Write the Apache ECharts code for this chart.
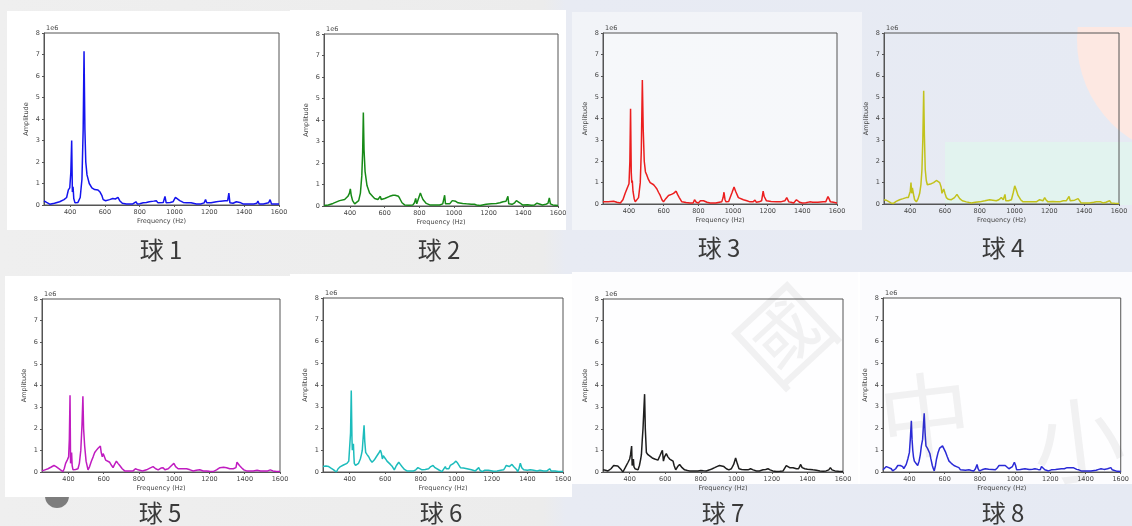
<!DOCTYPE html>
<html>
<head>
<meta charset="utf-8">
<script src="https://cdn.jsdelivr.net/npm/echarts@6/dist/echarts.min.js"></script>
<style>
html,body{margin:0;padding:0;background:#eeeeee;}
#chart{width:1132px;height:526px;}
</style>
</head>
<body>
<div id="chart"></div>
<script>
// Spectrum of each ball: [frequency (Hz), amplitude (x1e6)]
const ball1 = [[250,0.19],[265,0.12],[283,0.04],[310,0.08],[340,0.15],[365,0.25],[380,0.35],[390,0.7],[398,0.8],[404,1.5],[409,3.0],[413,0.6],[417,0.85],[421,0.3],[428,0.1],[445,0.12],[458,0.35],[468,1.2],[475,3.5],[480,7.15],[485,3.5],[490,2.0],[497,1.4],[510,1.0],[525,0.8],[541,0.72],[560,0.7],[572,0.6],[582,0.45],[590,0.25],[604,0.2],[627,0.25],[645,0.3],[660,0.28],[675,0.35],[685,0.2],[700,0.08],[723,0.05],[760,0.05],[778,0.15],[786,0.05],[800,0.06],[809,0.15],[820,0.1],[838,0.12],[855,0.15],[866,0.2],[880,0.18],[895,0.2],[905,0.1],[915,0.08],[935,0.12],[945,0.4],[952,0.1],[975,0.12],[991,0.15],[1005,0.35],[1015,0.33],[1030,0.2],[1050,0.12],[1070,0.1],[1095,0.1],[1125,0.05],[1150,0.05],[1170,0.1],[1178,0.25],[1185,0.1],[1210,0.1],[1240,0.15],[1265,0.18],[1290,0.2],[1305,0.2],[1312,0.55],[1318,0.1],[1336,0.08],[1355,0.15],[1365,0.22],[1375,0.12],[1393,0.05],[1430,0.05],[1455,0.05],[1472,0.08],[1479,0.18],[1486,0.05],[1510,0.05],[1540,0.1],[1549,0.25],[1557,0.05],[1580,0.05],[1600,0.05]];
const ball2 = [[250,0.02],[275,0.05],[302,0.12],[340,0.25],[369,0.3],[388,0.45],[397,0.6],[402,0.8],[407,0.5],[415,0.25],[427,0.1],[437,0.05],[450,0.25],[460,0.6],[468,1.4],[473,2.5],[477,4.35],[481,2.6],[487,1.6],[498,0.95],[513,0.6],[530,0.45],[542,0.35],[561,0.3],[575,0.45],[580,0.3],[586,0.35],[600,0.35],[610,0.4],[629,0.45],[648,0.5],[660,0.5],[671,0.55],[680,0.45],[687,0.35],[700,0.15],[715,0.05],[740,0.03],[763,0.05],[772,0.15],[779,0.35],[785,0.1],[795,0.15],[806,0.6],[813,0.45],[821,0.3],[840,0.12],[860,0.05],[890,0.05],[917,0.05],[935,0.1],[946,0.5],[951,0.1],[975,0.1],[990,0.25],[1000,0.3],[1010,0.22],[1023,0.15],[1050,0.12],[1071,0.1],[1100,0.08],[1118,0.08],[1123,0.14],[1130,0.05],[1150,0.02],[1186,0.08],[1215,0.1],[1244,0.12],[1265,0.15],[1283,0.2],[1300,0.22],[1311,0.45],[1316,0.1],[1335,0.08],[1350,0.15],[1360,0.25],[1370,0.25],[1379,0.15],[1395,0.05],[1425,0.06],[1436,0.1],[1445,0.03],[1465,0.05],[1479,0.13],[1488,0.04],[1510,0.05],[1530,0.08],[1542,0.12],[1550,0.38],[1556,0.1],[1570,0.05],[1600,0.02]];
const ball3 = [[250,0.1],[280,0.1],[311,0.13],[330,0.08],[350,0.05],[365,0.2],[378,0.5],[390,0.75],[400,0.95],[405,2.0],[409,4.45],[413,1.5],[416,1.0],[419,1.1],[423,0.6],[430,0.25],[436,0.1],[445,0.15],[455,0.3],[465,1.0],[471,2.5],[477,5.8],[482,3.5],[488,2.0],[495,1.5],[503,1.35],[512,1.15],[522,1.0],[532,0.95],[542,0.9],[552,0.8],[561,0.7],[570,0.55],[580,0.4],[590,0.2],[599,0.1],[612,0.25],[628,0.4],[645,0.45],[657,0.5],[672,0.6],[680,0.45],[690,0.3],[705,0.1],[730,0.07],[752,0.05],[770,0.05],[778,0.2],[782,0.25],[788,0.08],[800,0.05],[812,0.15],[830,0.15],[850,0.08],[868,0.05],[900,0.05],[935,0.1],[943,0.3],[948,0.55],[954,0.2],[960,0.1],[975,0.12],[983,0.2],[995,0.55],[1006,0.8],[1015,0.6],[1031,0.3],[1060,0.2],[1080,0.15],[1098,0.1],[1115,0.1],[1127,0.18],[1135,0.08],[1150,0.1],[1165,0.15],[1174,0.6],[1180,0.35],[1193,0.15],[1220,0.12],[1251,0.1],[1275,0.1],[1299,0.15],[1310,0.3],[1316,0.35],[1322,0.1],[1335,0.08],[1350,0.05],[1366,0.2],[1372,0.18],[1385,0.08],[1400,0.05],[1420,0.06],[1443,0.1],[1460,0.08],[1490,0.08],[1520,0.1],[1535,0.1],[1548,0.35],[1554,0.25],[1562,0.1],[1580,0.08],[1600,0.05]];
const ball4 = [[250,0.2],[262,0.18],[273,0.15],[290,0.05],[302,0.02],[320,0.12],[340,0.2],[360,0.25],[378,0.3],[390,0.3],[397,0.35],[401,0.6],[405,1.0],[409,0.5],[413,0.75],[417,0.7],[422,0.35],[426,0.2],[436,0.1],[446,0.25],[455,0.5],[462,0.9],[468,1.6],[473,3.0],[478,5.3],[482,3.2],[487,1.6],[493,1.1],[499,0.9],[510,0.9],[522,0.95],[535,1.0],[551,1.1],[562,1.08],[570,1.0],[578,0.8],[583,0.5],[587,0.55],[593,0.7],[600,0.5],[608,0.3],[620,0.22],[637,0.2],[655,0.3],[669,0.45],[677,0.4],[685,0.25],[700,0.15],[723,0.1],[740,0.07],[752,0.05],[775,0.08],[800,0.1],[830,0.15],[857,0.2],[875,0.18],[895,0.15],[910,0.2],[924,0.3],[935,0.2],[945,0.45],[950,0.15],[965,0.15],[982,0.2],[993,0.55],[1001,0.85],[1010,0.65],[1020,0.4],[1035,0.2],[1049,0.1],[1080,0.1],[1100,0.1],[1125,0.1],[1135,0.05],[1144,0.2],[1150,0.15],[1163,0.15],[1168,0.2],[1173,0.3],[1180,0.2],[1192,0.1],[1220,0.12],[1240,0.1],[1259,0.1],[1280,0.15],[1297,0.15],[1305,0.2],[1313,0.35],[1320,0.15],[1330,0.2],[1345,0.18],[1355,0.2],[1365,0.25],[1372,0.2],[1382,0.05],[1400,0.05],[1430,0.05],[1455,0.08],[1470,0.1],[1480,0.05],[1495,0.1],[1508,0.05],[1525,0.08],[1546,0.15],[1555,0.05],[1575,0.03],[1600,0.02]];
const ball5 = [[250,0.05],[267,0.1],[284,0.15],[300,0.22],[318,0.3],[330,0.25],[341,0.2],[355,0.1],[369,0.02],[376,0.15],[384,0.4],[393,0.55],[401,0.7],[405,1.5],[409,3.55],[412,0.4],[415,0.5],[418,0.9],[421,0.3],[426,0.1],[440,0.12],[454,0.15],[462,0.4],[470,1.0],[477,2.2],[482,3.5],[486,2.0],[492,1.2],[500,0.5],[511,0.1],[520,0.25],[530,0.5],[540,0.7],[549,0.9],[558,1.0],[568,1.1],[575,1.15],[581,1.2],[586,0.9],[592,0.7],[597,0.85],[602,0.75],[611,0.55],[622,0.5],[634,0.45],[645,0.3],[653,0.2],[662,0.35],[672,0.5],[681,0.4],[691,0.3],[705,0.15],[719,0.05],[740,0.05],[767,0.05],[780,0.15],[786,0.2],[795,0.1],[805,0.02],[820,0.05],[843,0.1],[862,0.18],[880,0.25],[895,0.15],[909,0.1],[925,0.18],[937,0.2],[947,0.1],[956,0.05],[966,0.15],[975,0.2],[985,0.3],[998,0.4],[1008,0.25],[1022,0.15],[1045,0.15],[1070,0.15],[1090,0.1],[1108,0.05],[1125,0.08],[1145,0.1],[1165,0.05],[1183,0.05],[1200,0.03],[1221,0.02],[1240,0.1],[1259,0.2],[1280,0.22],[1297,0.2],[1315,0.15],[1335,0.15],[1350,0.2],[1356,0.45],[1363,0.45],[1370,0.3],[1382,0.2],[1395,0.1],[1410,0.05],[1430,0.05],[1448,0.05],[1470,0.08],[1490,0.05],[1505,0.05],[1530,0.05],[1545,0.1],[1552,0.15],[1560,0.05],[1580,0.02],[1600,0.02]];
const ball6 = [[250,0.25],[266,0.28],[282,0.25],[295,0.18],[310,0.1],[325,0.0],[335,0.15],[348,0.25],[365,0.32],[385,0.4],[395,0.5],[400,0.55],[405,1.8],[409,3.75],[413,1.5],[415,1.0],[418,1.2],[421,1.3],[424,0.7],[426,0.4],[433,0.3],[441,0.25],[450,0.4],[460,0.6],[466,0.8],[471,1.0],[476,1.6],[481,2.15],[485,1.4],[490,0.9],[498,0.8],[507,0.7],[516,0.55],[526,0.45],[538,0.55],[550,0.7],[562,0.85],[573,1.0],[579,0.85],[584,0.6],[589,0.75],[595,0.7],[602,0.6],[610,0.5],[620,0.45],[629,0.35],[640,0.25],[651,0.1],[663,0.3],[676,0.45],[685,0.35],[694,0.25],[708,0.12],[722,0.05],[740,0.05],[760,0.05],[772,0.1],[784,0.2],[795,0.15],[807,0.1],[825,0.12],[844,0.15],[856,0.25],[869,0.3],[880,0.2],[891,0.15],[905,0.08],[919,0.02],[930,0.1],[938,0.25],[943,0.15],[950,0.2],[958,0.15],[966,0.3],[975,0.25],[985,0.4],[998,0.5],[1008,0.4],[1023,0.2],[1040,0.18],[1060,0.15],[1085,0.1],[1107,0.05],[1118,0.1],[1126,0.2],[1133,0.08],[1145,0.02],[1160,0.08],[1169,0.15],[1180,0.08],[1191,0.02],[1210,0.03],[1229,0.05],[1250,0.08],[1266,0.1],[1274,0.2],[1281,0.3],[1290,0.22],[1298,0.25],[1306,0.3],[1313,0.35],[1322,0.25],[1332,0.2],[1340,0.1],[1345,0.0],[1352,0.15],[1360,0.4],[1368,0.2],[1379,0.1],[1400,0.08],[1416,0.1],[1435,0.08],[1454,0.05],[1470,0.08],[1491,0.05],[1510,0.05],[1525,0.15],[1533,0.05],[1555,0.05],[1575,0.02],[1600,0.02]];
const ball7 = [[250,0.1],[264,0.08],[278,0.05],[295,0.15],[310,0.3],[321,0.35],[333,0.28],[344,0.2],[353,0.1],[362,0.0],[375,0.2],[391,0.45],[400,0.6],[405,0.8],[411,1.2],[414,0.3],[417,0.4],[421,0.6],[424,0.25],[430,0.15],[447,0.1],[455,0.3],[462,0.6],[466,0.8],[471,1.5],[475,2.0],[480,2.9],[484,3.6],[488,2.0],[494,0.9],[503,0.8],[513,0.75],[527,0.65],[541,0.6],[559,0.55],[570,0.75],[578,0.9],[584,1.0],[590,0.5],[596,0.7],[606,0.85],[615,0.7],[625,0.6],[635,0.55],[644,0.5],[650,0.3],[659,0.1],[670,0.25],[681,0.35],[695,0.2],[709,0.1],[725,0.07],[738,0.05],[760,0.05],[784,0.05],[800,0.07],[815,0.06],[831,0.05],[850,0.1],[865,0.15],[878,0.2],[890,0.25],[905,0.3],[916,0.35],[930,0.25],[944,0.15],[958,0.1],[972,0.15],[985,0.35],[996,0.65],[1005,0.4],[1015,0.15],[1030,0.12],[1050,0.1],[1066,0.1],[1080,0.15],[1095,0.1],[1113,0.05],[1130,0.05],[1150,0.1],[1165,0.12],[1178,0.15],[1190,0.1],[1205,0.05],[1225,0.02],[1245,0.03],[1263,0.05],[1272,0.1],[1281,0.3],[1290,0.25],[1300,0.2],[1310,0.2],[1319,0.2],[1328,0.18],[1338,0.15],[1350,0.15],[1356,0.25],[1362,0.35],[1370,0.2],[1385,0.15],[1400,0.13],[1415,0.12],[1431,0.1],[1450,0.08],[1470,0.05],[1488,0.03],[1505,0.05],[1520,0.1],[1529,0.2],[1538,0.1],[1555,0.05],[1575,0.03],[1600,0.02]];
const ball8 = [[250,0.1],[259,0.18],[269,0.25],[283,0.2],[297,0.15],[305,0.05],[310,0.0],[322,0.15],[334,0.3],[348,0.3],[362,0.25],[368,0.15],[372,0.1],[382,0.35],[391,0.6],[400,0.9],[405,1.5],[411,2.35],[415,1.5],[419,1.0],[423,0.7],[428,0.5],[437,0.4],[447,0.3],[455,0.5],[462,0.8],[468,1.2],[475,1.5],[480,2.2],[484,2.7],[489,1.8],[494,1.2],[502,1.1],[509,1.05],[516,0.85],[522,0.6],[530,0.3],[536,0.15],[541,0.05],[548,0.3],[554,0.6],[563,0.9],[572,1.1],[580,1.15],[588,1.2],[597,1.05],[606,0.9],[615,0.7],[625,0.5],[638,0.4],[653,0.3],[667,0.25],[681,0.2],[690,0.1],[700,0.05],[718,0.08],[738,0.1],[752,0.07],[766,0.05],[775,0.15],[784,0.35],[790,0.15],[797,0.05],[812,0.1],[831,0.15],[850,0.13],[870,0.12],[888,0.1],[900,0.2],[909,0.3],[916,0.35],[928,0.3],[937,0.25],[944,0.3],[955,0.25],[965,0.15],[972,0.1],[985,0.25],[996,0.45],[1003,0.3],[1009,0.1],[1030,0.12],[1056,0.15],[1080,0.12],[1100,0.13],[1113,0.15],[1130,0.12],[1143,0.1],[1150,0.25],[1158,0.2],[1169,0.1],[1180,0.12],[1190,0.05],[1206,0.1],[1230,0.12],[1263,0.15],[1280,0.15],[1295,0.2],[1309,0.2],[1320,0.15],[1330,0.2],[1338,0.15],[1350,0.12],[1362,0.1],[1375,0.05],[1400,0.05],[1431,0.05],[1460,0.08],[1475,0.12],[1488,0.15],[1505,0.12],[1525,0.15],[1535,0.12],[1544,0.2],[1552,0.1],[1563,0.05],[1580,0.03],[1600,0.02]];

const ballNames = ['球 1', '球 2', '球 3', '球 4', '球 5', '球 6', '球 7', '球 8'];
const freqTicks = [400, 600, 800, 1000, 1200, 1400, 1600];
const freqRange = [250, 1600];
const ampRange = [0, 8];
const ampScaleText = '1e6';
const xTitle = 'Frequency (Hz)';
const yTitle = 'Amplitude';

const balls = [ball1, ball2, ball3, ball4, ball5, ball6, ball7, ball8];
const lineColors = ['#1414ee', '#178a17', '#ec1e1e', '#c2c21c', '#c01cc0', '#1cbcbc', '#1e1e1e', '#2a2ad6'];

// plot boxes (l, t, r, b), backing card, plot background and caption centre
const panels = [
  { l: 44,  t: 33,  r: 279,  b: 205, card: [7, 11, 283, 219],   cardFill: '#ffffff', plotBg: '#ffffff', cap: [161, 250] },
  { l: 324, t: 34,  r: 558,  b: 206, card: [290, 10, 276, 220], cardFill: '#ffffff', plotBg: '#ffffff', cap: [439, 250] },
  { l: 603, t: 33,  r: 837,  b: 204, card: [572, 12, 290, 218], cardFill: 'rgba(255,255,255,0.45)', plotBg: 'rgba(255,255,255,0.35)', cap: [719, 248] },
  { l: 884, t: 33,  r: 1119, b: 204, card: [862, 12, 270, 218], cardFill: 'rgba(255,255,255,0)', plotBg: 'rgba(255,255,255,0)', cap: [1003, 248] },
  { l: 42,  t: 299, r: 280,  b: 472, card: [5, 276, 285, 221],  cardFill: '#ffffff', plotBg: '#ffffff', cap: [160, 513] },
  { l: 323, t: 298, r: 563,  b: 472, card: [290, 274, 282, 223], cardFill: '#ffffff', plotBg: '#ffffff', cap: [441, 513] },
  { l: 603, t: 299, r: 843,  b: 472, card: [572, 272, 288, 212], cardFill: 'rgba(255,255,255,0.9)', plotBg: 'rgba(255,255,255,0.6)', cap: [723, 513] },
  { l: 883, t: 298, r: 1123, b: 472, card: [858, 272, 274, 212], cardFill: 'rgba(255,255,255,0.85)', plotBg: 'rgba(255,255,255,0.5)', cap: [1003, 513] }
];

const tickFont = 'DejaVu Sans';
const axisColor = '#555555';
const plainNumber = v => String(v);
const grids = [], xAxes = [], yAxes = [], series = [];
const graphics = [];

// slide backdrop
graphics.push({ type: 'rect', z: -100, shape: { x: 0, y: 0, width: 1132, height: 526 },
  style: { fill: new echarts.graphic.LinearGradient(0, 0, 1, 0, [
    { offset: 0, color: '#efefef' }, { offset: 0.48, color: '#ececec' },
    { offset: 0.5, color: '#e8ebf3' }, { offset: 1, color: '#e6eaf3' }]) } });
graphics.push({ type: 'circle', z: -99, shape: { cx: 1195, cy: 40, r: 118 }, style: { fill: '#fde8e2' } });
graphics.push({ type: 'rect', z: -99, shape: { x: 1060, y: 0, width: 72, height: 27 }, style: { fill: '#e6eaf3' } });
graphics.push({ type: 'rect', z: -99, shape: { x: 945, y: 142, width: 187, height: 63 }, style: { fill: '#e2f3ef' } });
graphics.push({ type: 'circle', z: -99, shape: { cx: 57, cy: 496, r: 12 }, style: { fill: '#7d7d7d' } });

panels.forEach((p, i) => {
  const c = p.card;
  graphics.push({ type: 'rect', z: -98, shape: { x: c[0], y: c[1], width: c[2], height: c[3] }, style: { fill: p.cardFill } });
  graphics.push({ type: 'text', z: 10, x: p.l + 2, y: p.t - 1,
    style: { text: ampScaleText, font: '6.5px ' + tickFont, fill: '#444', textAlign: 'left', textVerticalAlign: 'bottom' } });
  graphics.push({ type: 'text', z: 10, x: p.cap[0], y: p.cap[1],
    style: { text: ballNames[i], font: '24px "Noto Sans CJK TC", sans-serif', fill: '#3a3a3a', textAlign: 'center', textVerticalAlign: 'middle' } });

  grids.push({ left: p.l, top: p.t, width: p.r - p.l, height: p.b - p.t, show: true,
    backgroundColor: p.plotBg, borderColor: axisColor, borderWidth: 1 });
  xAxes.push({ gridIndex: i, type: 'value', min: freqRange[0], max: freqRange[1],
    name: xTitle, nameLocation: 'middle', nameGap: 13,
    nameTextStyle: { fontSize: 6.5, color: '#444', fontFamily: tickFont },
    axisLine: { show: true, onZero: false, lineStyle: { color: axisColor, width: 1 } },
    axisTick: { show: true, length: 2, customValues: freqTicks, lineStyle: { color: axisColor } },
    axisLabel: { fontSize: 6.5, color: '#444', margin: 4, fontFamily: tickFont, customValues: freqTicks, formatter: plainNumber },
    splitLine: { show: false } });
  yAxes.push({ gridIndex: i, type: 'value', min: ampRange[0], max: ampRange[1], interval: 1,
    name: yTitle, nameLocation: 'middle', nameGap: 14, nameRotate: 90,
    nameTextStyle: { fontSize: 6.5, color: '#444', fontFamily: tickFont },
    axisLine: { show: true, lineStyle: { color: axisColor, width: 1 } },
    axisTick: { show: true, length: 2, lineStyle: { color: axisColor } },
    axisLabel: { fontSize: 6.5, color: '#444', margin: 4, fontFamily: tickFont, formatter: plainNumber },
    splitLine: { show: false } });
  series.push({ type: 'line', xAxisIndex: i, yAxisIndex: i, data: balls[i],
    symbol: 'none', showSymbol: false, silent: true, z: 3,
    lineStyle: { color: lineColors[i], width: 1.5 }, itemStyle: { color: lineColors[i] } });
});

// faint watermark glyphs across the slide
[['國', 785, 335, 0.75], ['中', 925, 415, 0.12], ['小', 1078, 440, 0.12]].forEach(w => {
  graphics.push({ type: 'text', z: 50, x: w[1], y: w[2], rotation: w[3],
    style: { text: w[0], font: '92px "Noto Sans CJK TC", sans-serif', fill: 'rgba(90,90,90,0.08)', textAlign: 'center', textVerticalAlign: 'middle' } });
});

const chart = echarts.init(document.getElementById('chart'), null, { renderer: 'canvas' });
chart.setOption({
  animation: false,
  backgroundColor: '#eeeeee',
  grid: grids,
  xAxis: xAxes,
  yAxis: yAxes,
  series: series,
  graphic: { elements: graphics }
});
</script>
</body>
</html>
